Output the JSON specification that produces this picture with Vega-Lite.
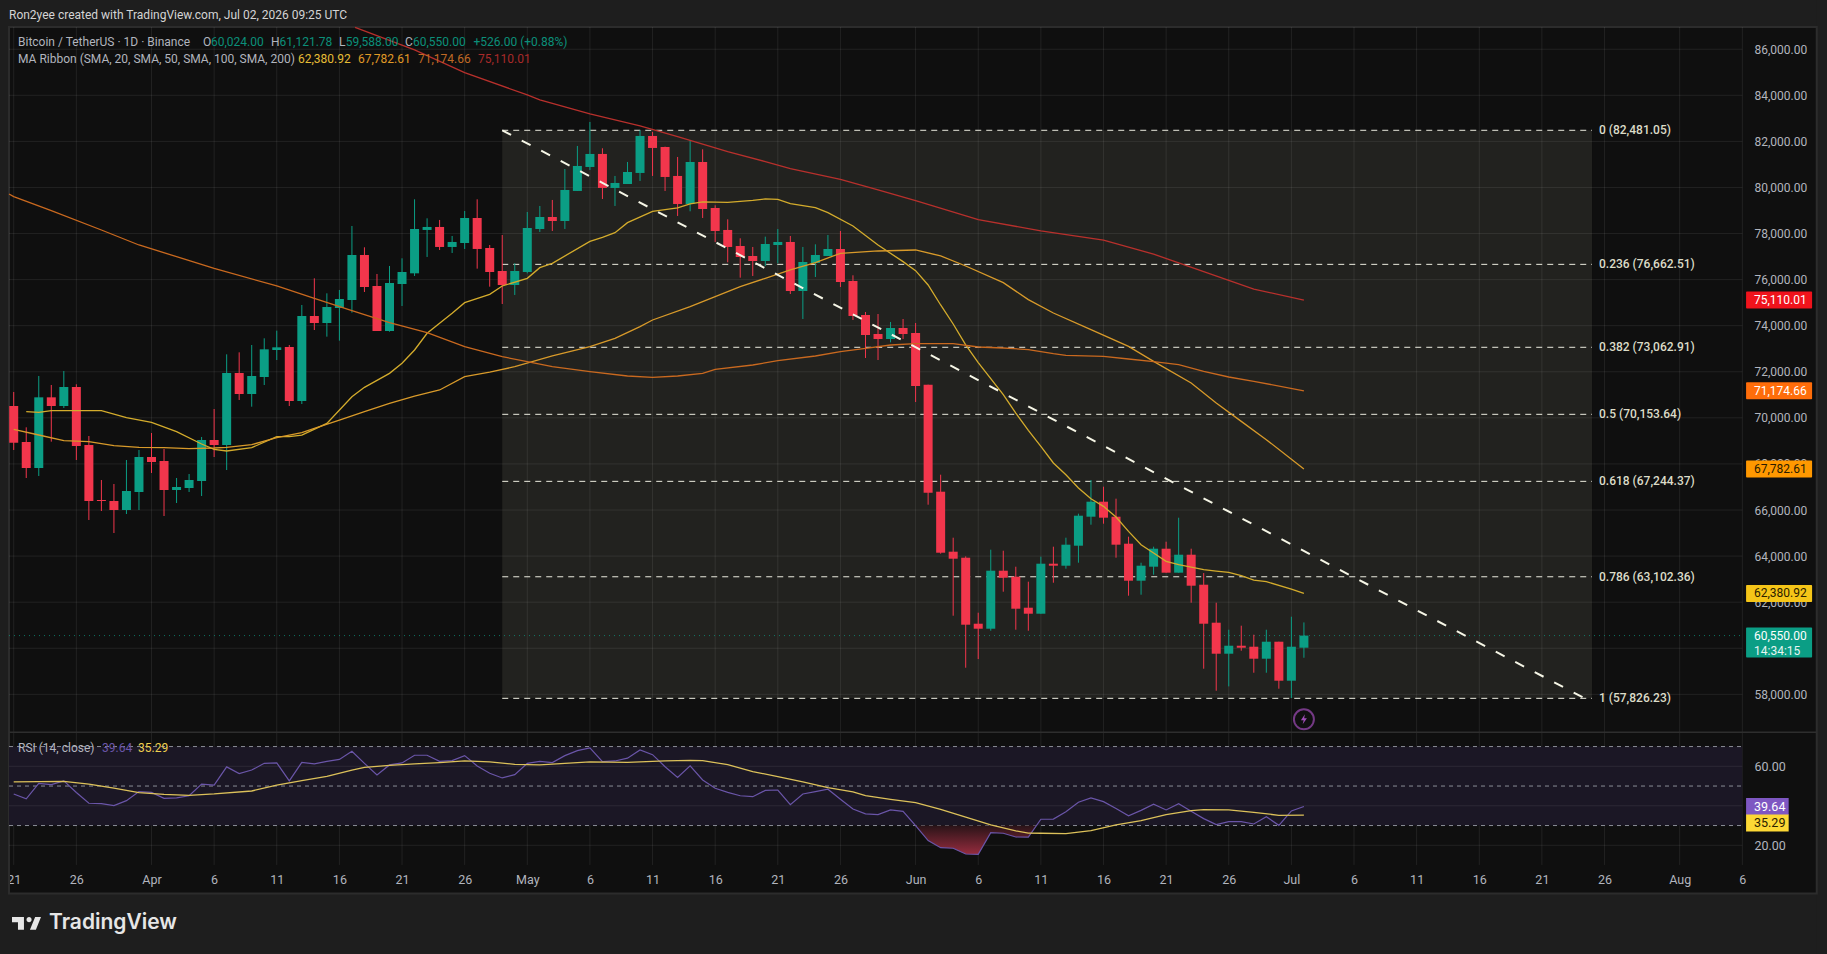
{
"$schema":"https://vega.github.io/schema/vega-lite/v6.json",
"width":1827,"height":954,"autosize":"none","padding":{"left":0,"right":0,"top":0,"bottom":0},"background":"#0f0f0f",
"config":{"view":{"stroke":null},"text":{"font":"Roboto"},"scale":{"continuousPadding":0},"axis":{"grid":false,"domain":false,"ticks":false,"title":null}},
"datasets":{
"candles":[
{"date":"2026-03-21","open":70515,"high":71123,"low":68605,"close":68923},
{"date":"2026-03-22","open":68952,"high":69589,"low":67390,"close":67824},
{"date":"2026-03-23","open":67824,"high":71818,"low":67477,"close":70891},
{"date":"2026-03-24","open":70891,"high":71427,"low":68967,"close":70515},
{"date":"2026-03-25","open":70515,"high":72035,"low":70428,"close":71340},
{"date":"2026-03-26","open":71340,"high":71456,"low":68171,"close":68779},
{"date":"2026-03-27","open":68822,"high":69213,"low":65567,"close":66391},
{"date":"2026-03-28","open":66435,"high":67303,"low":65957,"close":66391},
{"date":"2026-03-29","open":66391,"high":67129,"low":65002,"close":66000},
{"date":"2026-03-30","open":66000,"high":68171,"low":65827,"close":66825},
{"date":"2026-03-31","open":66782,"high":68605,"low":66000,"close":68301},
{"date":"2026-04-01","open":68301,"high":69343,"low":67607,"close":68084},
{"date":"2026-04-02","open":68127,"high":68649,"low":65740,"close":66869},
{"date":"2026-04-03","open":66869,"high":67390,"low":66304,"close":66999},
{"date":"2026-04-04","open":66955,"high":67563,"low":66782,"close":67303},
{"date":"2026-04-05","open":67260,"high":69170,"low":66608,"close":69039},
{"date":"2026-04-06","open":69039,"high":70385,"low":68301,"close":68822},
{"date":"2026-04-07","open":68822,"high":72757,"low":67736,"close":71947},
{"date":"2026-04-08","open":71947,"high":72844,"low":70775,"close":71035},
{"date":"2026-04-09","open":71035,"high":73162,"low":70485,"close":71817},
{"date":"2026-04-10","open":71773,"high":73452,"low":71426,"close":72974},
{"date":"2026-04-11","open":72945,"high":73785,"low":72511,"close":73061},
{"date":"2026-04-12","open":73075,"high":73162,"low":70514,"close":70731},
{"date":"2026-04-13","open":70731,"high":74899,"low":70601,"close":74421},
{"date":"2026-04-14","open":74421,"high":76056,"low":73813,"close":74117},
{"date":"2026-04-15","open":74117,"high":75405,"low":73524,"close":74812},
{"date":"2026-04-16","open":74768,"high":75550,"low":73350,"close":75159},
{"date":"2026-04-17","open":75116,"high":78328,"low":74566,"close":77069},
{"date":"2026-04-18","open":77069,"high":77402,"low":75463,"close":75680},
{"date":"2026-04-19","open":75723,"high":76245,"low":73770,"close":73770},
{"date":"2026-04-20","open":73770,"high":76592,"low":73741,"close":75854},
{"date":"2026-04-21","open":75810,"high":76925,"low":74855,"close":76331},
{"date":"2026-04-22","open":76273,"high":79486,"low":76157,"close":78198},
{"date":"2026-04-23","open":78155,"high":78661,"low":76983,"close":78285},
{"date":"2026-04-24","open":78285,"high":78589,"low":77286,"close":77417},
{"date":"2026-04-25","open":77417,"high":77894,"low":77156,"close":77634},
{"date":"2026-04-26","open":77590,"high":78979,"low":77330,"close":78675},
{"date":"2026-04-27","open":78675,"high":79486,"low":76476,"close":77330},
{"date":"2026-04-28","open":77373,"high":77503,"low":75694,"close":76331},
{"date":"2026-04-29","open":76375,"high":77937,"low":74942,"close":75767},
{"date":"2026-04-30","open":75767,"high":76708,"low":75333,"close":76375},
{"date":"2026-05-01","open":76331,"high":78936,"low":76273,"close":78241},
{"date":"2026-05-02","open":78198,"high":79196,"low":78068,"close":78719},
{"date":"2026-05-03","open":78719,"high":79457,"low":78111,"close":78545},
{"date":"2026-05-04","open":78545,"high":80802,"low":78198,"close":79891},
{"date":"2026-05-05","open":79848,"high":81801,"low":79848,"close":80933},
{"date":"2026-05-06","open":80889,"high":82843,"low":80759,"close":81454},
{"date":"2026-05-07","open":81454,"high":81700,"low":79500,"close":79978},
{"date":"2026-05-08","open":79978,"high":80499,"low":79196,"close":80195},
{"date":"2026-05-09","open":80151,"high":81106,"low":80151,"close":80672},
{"date":"2026-05-10","open":80629,"high":82481,"low":80282,"close":82235},
{"date":"2026-05-11","open":82235,"high":82409,"low":80499,"close":81714},
{"date":"2026-05-12","open":81757,"high":81772,"low":79847,"close":80455},
{"date":"2026-05-13","open":80499,"high":81323,"low":78762,"close":79283},
{"date":"2026-05-14","open":79283,"high":82061,"low":78965,"close":81106},
{"date":"2026-05-15","open":81106,"high":81656,"low":78675,"close":79066},
{"date":"2026-05-16","open":79109,"high":79225,"low":77634,"close":78111},
{"date":"2026-05-17","open":78155,"high":78617,"low":76751,"close":77417},
{"date":"2026-05-18","open":77460,"high":77793,"low":76085,"close":76982},
{"date":"2026-05-19","open":77026,"high":77417,"low":76158,"close":76809},
{"date":"2026-05-20","open":76809,"high":77865,"low":76592,"close":77547},
{"date":"2026-05-21","open":77503,"high":78198,"low":76708,"close":77634},
{"date":"2026-05-22","open":77634,"high":77894,"low":75376,"close":75507},
{"date":"2026-05-23","open":75507,"high":77417,"low":74291,"close":76765},
{"date":"2026-05-24","open":76722,"high":77532,"low":76114,"close":77069},
{"date":"2026-05-25","open":77026,"high":77937,"low":77026,"close":77330},
{"date":"2026-05-26","open":77330,"high":78111,"low":75680,"close":75897},
{"date":"2026-05-27","open":75941,"high":76187,"low":74248,"close":74422},
{"date":"2026-05-28","open":74465,"high":74595,"low":72598,"close":73597},
{"date":"2026-05-29","open":73640,"high":74508,"low":72511,"close":73423},
{"date":"2026-05-30","open":73423,"high":74161,"low":73278,"close":73900},
{"date":"2026-05-31","open":73900,"high":74291,"low":73423,"close":73640},
{"date":"2026-06-01","open":73683,"high":74117,"low":70688,"close":71382},
{"date":"2026-06-02","open":71440,"high":71440,"low":66231,"close":66752},
{"date":"2026-06-03","open":66795,"high":67533,"low":64104,"close":64147},
{"date":"2026-06-04","open":64191,"high":64799,"low":61412,"close":63887},
{"date":"2026-06-05","open":63930,"high":63988,"low":59155,"close":61022},
{"date":"2026-06-06","open":61065,"high":61543,"low":59531,"close":60848},
{"date":"2026-06-07","open":60848,"high":64278,"low":60761,"close":63366},
{"date":"2026-06-08","open":63366,"high":64234,"low":62454,"close":63062},
{"date":"2026-06-09","open":63106,"high":63540,"low":60805,"close":61716},
{"date":"2026-06-10","open":61760,"high":62889,"low":60761,"close":61499},
{"date":"2026-06-11","open":61499,"high":63974,"low":61499,"close":63670},
{"date":"2026-06-12","open":63670,"high":64408,"low":62845,"close":63583},
{"date":"2026-06-13","open":63583,"high":64799,"low":63453,"close":64495},
{"date":"2026-06-14","open":64451,"high":65840,"low":63713,"close":65753},
{"date":"2026-06-15","open":65710,"high":67302,"low":65363,"close":66361},
{"date":"2026-06-16","open":66361,"high":67012,"low":65406,"close":65667},
{"date":"2026-06-17","open":65710,"high":66492,"low":63930,"close":64495},
{"date":"2026-06-18","open":64538,"high":64842,"low":62281,"close":62932},
{"date":"2026-06-19","open":62932,"high":63713,"low":62324,"close":63583},
{"date":"2026-06-20","open":63540,"high":64408,"low":63192,"close":64321},
{"date":"2026-06-21","open":64321,"high":64625,"low":63280,"close":63280},
{"date":"2026-06-22","open":63280,"high":65667,"low":63280,"close":64060},
{"date":"2026-06-23","open":64060,"high":64321,"low":61977,"close":62715},
{"date":"2026-06-24","open":62758,"high":63265,"low":59112,"close":61065},
{"date":"2026-06-25","open":61109,"high":61977,"low":58157,"close":59763},
{"date":"2026-06-26","open":59763,"high":60805,"low":58345,"close":60110},
{"date":"2026-06-27","open":60110,"high":60979,"low":59893,"close":60023},
{"date":"2026-06-28","open":60067,"high":60588,"low":58938,"close":59546},
{"date":"2026-06-29","open":59546,"high":60805,"low":58938,"close":60284},
{"date":"2026-06-30","open":60284,"high":60284,"low":58244,"close":58591},
{"date":"2026-07-01","open":58591,"high":61369,"low":57838,"close":60067},
{"date":"2026-07-02","open":60024,"high":61121.78,"low":59588,"close":60550}
],
"sma":[
{"s":"sma20","date":"2026-03-22","v":70269},{"s":"sma20","date":"2026-03-23","v":70240},{"s":"sma20","date":"2026-03-24","v":70313},{"s":"sma20","date":"2026-03-26","v":70313},{"s":"sma20","date":"2026-03-28","v":70313},{"s":"sma20","date":"2026-03-30","v":70009},{"s":"sma20","date":"2026-04-01","v":69806},{"s":"sma20","date":"2026-04-03","v":69401},{"s":"sma20","date":"2026-04-05","v":68866},{"s":"sma20","date":"2026-04-06","v":68634},{"s":"sma20","date":"2026-04-07","v":68562},{"s":"sma20","date":"2026-04-09","v":68706},{"s":"sma20","date":"2026-04-11","v":69184},{"s":"sma20","date":"2026-04-12","v":69184},{"s":"sma20","date":"2026-04-13","v":69255},{"s":"sma20","date":"2026-04-15","v":69762},{"s":"sma20","date":"2026-04-17","v":70919},{"s":"sma20","date":"2026-04-18","v":71325},{"s":"sma20","date":"2026-04-20","v":71932},{"s":"sma20","date":"2026-04-21","v":72367},{"s":"sma20","date":"2026-04-22","v":72945},{"s":"sma20","date":"2026-04-23","v":73669},{"s":"sma20","date":"2026-04-25","v":74537},{"s":"sma20","date":"2026-04-26","v":74999},{"s":"sma20","date":"2026-04-28","v":75361},{"s":"sma20","date":"2026-04-29","v":75724},{"s":"sma20","date":"2026-05-01","v":76056},{"s":"sma20","date":"2026-05-02","v":76519},{"s":"sma20","date":"2026-05-03","v":76708},{"s":"sma20","date":"2026-05-06","v":77662},{"s":"sma20","date":"2026-05-07","v":77836},{"s":"sma20","date":"2026-05-08","v":78039},{"s":"sma20","date":"2026-05-09","v":78473},{"s":"sma20","date":"2026-05-11","v":78965},{"s":"sma20","date":"2026-05-13","v":79109},{"s":"sma20","date":"2026-05-14","v":79283},{"s":"sma20","date":"2026-05-15","v":79370},{"s":"sma20","date":"2026-05-17","v":79355},{"s":"sma20","date":"2026-05-19","v":79442},{"s":"sma20","date":"2026-05-20","v":79500},{"s":"sma20","date":"2026-05-21","v":79486},{"s":"sma20","date":"2026-05-22","v":79298},{"s":"sma20","date":"2026-05-24","v":79124},{"s":"sma20","date":"2026-05-25","v":78907},{"s":"sma20","date":"2026-05-27","v":78328},{"s":"sma20","date":"2026-05-29","v":77503},{"s":"sma20","date":"2026-05-31","v":76780},{"s":"sma20","date":"2026-06-01","v":76389},{"s":"sma20","date":"2026-06-02","v":75767},{"s":"sma20","date":"2026-06-03","v":74899},{"s":"sma20","date":"2026-06-04","v":74074},{"s":"sma20","date":"2026-06-05","v":73170},{"s":"sma20","date":"2026-06-06","v":72400},{"s":"sma20","date":"2026-06-08","v":71006},{"s":"sma20","date":"2026-06-09","v":70210},{"s":"sma20","date":"2026-06-10","v":69458},{"s":"sma20","date":"2026-06-11","v":68763},{"s":"sma20","date":"2026-06-12","v":68040},{"s":"sma20","date":"2026-06-13","v":67533},{"s":"sma20","date":"2026-06-14","v":66955},{"s":"sma20","date":"2026-06-15","v":66492},{"s":"sma20","date":"2026-06-16","v":66159},{"s":"sma20","date":"2026-06-17","v":65696},{"s":"sma20","date":"2026-06-18","v":65074},{"s":"sma20","date":"2026-06-19","v":64495},{"s":"sma20","date":"2026-06-20","v":64133},{"s":"sma20","date":"2026-06-21","v":63771},{"s":"sma20","date":"2026-06-22","v":63627},{"s":"sma20","date":"2026-06-23","v":63525},{"s":"sma20","date":"2026-06-24","v":63409},{"s":"sma20","date":"2026-06-25","v":63352},{"s":"sma20","date":"2026-06-26","v":63294},{"s":"sma20","date":"2026-06-27","v":63149},{"s":"sma20","date":"2026-06-28","v":62961},{"s":"sma20","date":"2026-06-29","v":62888},{"s":"sma20","date":"2026-07-01","v":62570},{"s":"sma20","date":"2026-07-02","v":62380.92},
{"s":"sma50","date":"2026-03-21","v":69502},{"s":"sma50","date":"2026-03-23","v":69256},{"s":"sma50","date":"2026-03-25","v":69010},{"s":"sma50","date":"2026-03-27","v":68967},{"s":"sma50","date":"2026-03-29","v":68793},{"s":"sma50","date":"2026-03-31","v":68721},{"s":"sma50","date":"2026-04-02","v":68706},{"s":"sma50","date":"2026-04-04","v":68663},{"s":"sma50","date":"2026-04-06","v":68692},{"s":"sma50","date":"2026-04-07","v":68721},{"s":"sma50","date":"2026-04-09","v":68837},{"s":"sma50","date":"2026-04-11","v":69141},{"s":"sma50","date":"2026-04-13","v":69358},{"s":"sma50","date":"2026-04-14","v":69545},{"s":"sma50","date":"2026-04-16","v":69906},{"s":"sma50","date":"2026-04-18","v":70268},{"s":"sma50","date":"2026-04-20","v":70630},{"s":"sma50","date":"2026-04-22","v":70948},{"s":"sma50","date":"2026-04-24","v":71209},{"s":"sma50","date":"2026-04-26","v":71788},{"s":"sma50","date":"2026-04-28","v":71980},{"s":"sma50","date":"2026-04-30","v":72222},{"s":"sma50","date":"2026-05-03","v":72685},{"s":"sma50","date":"2026-05-06","v":73090},{"s":"sma50","date":"2026-05-08","v":73452},{"s":"sma50","date":"2026-05-10","v":73958},{"s":"sma50","date":"2026-05-11","v":74248},{"s":"sma50","date":"2026-05-14","v":74826},{"s":"sma50","date":"2026-05-16","v":75261},{"s":"sma50","date":"2026-05-18","v":75694},{"s":"sma50","date":"2026-05-20","v":76056},{"s":"sma50","date":"2026-05-22","v":76418},{"s":"sma50","date":"2026-05-24","v":76737},{"s":"sma50","date":"2026-05-26","v":77142},{"s":"sma50","date":"2026-05-29","v":77243},{"s":"sma50","date":"2026-06-01","v":77286},{"s":"sma50","date":"2026-06-03","v":77026},{"s":"sma50","date":"2026-06-05","v":76592},{"s":"sma50","date":"2026-06-08","v":75870},{"s":"sma50","date":"2026-06-10","v":75130},{"s":"sma50","date":"2026-06-12","v":74551},{"s":"sma50","date":"2026-06-15","v":73828},{"s":"sma50","date":"2026-06-18","v":73104},{"s":"sma50","date":"2026-06-20","v":72453},{"s":"sma50","date":"2026-06-23","v":71513},{"s":"sma50","date":"2026-06-25","v":70644},{"s":"sma50","date":"2026-06-27","v":69848},{"s":"sma50","date":"2026-06-29","v":69053},{"s":"sma50","date":"2026-07-02","v":67782.61},
{"s":"sma100","date":"2026-03-20T15:00:00Z","v":79717},{"s":"sma100","date":"2026-03-21","v":79601},{"s":"sma100","date":"2026-03-24","v":78994},{"s":"sma100","date":"2026-03-28","v":78154},{"s":"sma100","date":"2026-03-31","v":77503},{"s":"sma100","date":"2026-04-03","v":76997},{"s":"sma100","date":"2026-04-06","v":76490},{"s":"sma100","date":"2026-04-11","v":75724},{"s":"sma100","date":"2026-04-14","v":75188},{"s":"sma100","date":"2026-04-17","v":74653},{"s":"sma100","date":"2026-04-20","v":74132},{"s":"sma100","date":"2026-04-23","v":73697},{"s":"sma100","date":"2026-04-26","v":73090},{"s":"sma100","date":"2026-04-29","v":72656},{"s":"sma100","date":"2026-05-01","v":72439},{"s":"sma100","date":"2026-05-03","v":72222},{"s":"sma100","date":"2026-05-06","v":72005},{"s":"sma100","date":"2026-05-09","v":71817},{"s":"sma100","date":"2026-05-11","v":71759},{"s":"sma100","date":"2026-05-13","v":71817},{"s":"sma100","date":"2026-05-15","v":71932},{"s":"sma100","date":"2026-05-16","v":72106},{"s":"sma100","date":"2026-05-19","v":72294},{"s":"sma100","date":"2026-05-21","v":72482},{"s":"sma100","date":"2026-05-24","v":72685},{"s":"sma100","date":"2026-05-26","v":72873},{"s":"sma100","date":"2026-05-28","v":73017},{"s":"sma100","date":"2026-05-30","v":73162},{"s":"sma100","date":"2026-06-01","v":73220},{"s":"sma100","date":"2026-06-04","v":73220},{"s":"sma100","date":"2026-06-06","v":73076},{"s":"sma100","date":"2026-06-08","v":73032},{"s":"sma100","date":"2026-06-10","v":72960},{"s":"sma100","date":"2026-06-12","v":72786},{"s":"sma100","date":"2026-06-13","v":72714},{"s":"sma100","date":"2026-06-16","v":72670},{"s":"sma100","date":"2026-06-18","v":72554},{"s":"sma100","date":"2026-06-20","v":72439},{"s":"sma100","date":"2026-06-22","v":72308},{"s":"sma100","date":"2026-06-24","v":72019},{"s":"sma100","date":"2026-06-26","v":71773},{"s":"sma100","date":"2026-06-28","v":71585},{"s":"sma100","date":"2026-07-02","v":71174.66},
{"s":"sma200","date":"2026-04-17T06:00:00Z","v":86952},{"s":"sma200","date":"2026-04-22","v":85968},{"s":"sma200","date":"2026-04-26","v":84984},{"s":"sma200","date":"2026-05-01","v":84015},{"s":"sma200","date":"2026-05-02","v":83798},{"s":"sma200","date":"2026-05-06","v":83190},{"s":"sma200","date":"2026-05-10","v":82669},{"s":"sma200","date":"2026-05-13","v":82206},{"s":"sma200","date":"2026-05-17","v":81555},{"s":"sma200","date":"2026-05-20","v":81121},{"s":"sma200","date":"2026-05-22","v":80817},{"s":"sma200","date":"2026-05-26","v":80354},{"s":"sma200","date":"2026-05-29","v":79891},{"s":"sma200","date":"2026-06-01","v":79428},{"s":"sma200","date":"2026-06-06","v":78600},{"s":"sma200","date":"2026-06-11","v":78119},{"s":"sma200","date":"2026-06-16","v":77714},{"s":"sma200","date":"2026-06-20","v":77107},{"s":"sma200","date":"2026-06-24","v":76348},{"s":"sma200","date":"2026-06-28","v":75589},{"s":"sma200","date":"2026-07-02","v":75110.01}
],
"rsi":[
{"date":"2026-03-21","v":46},{"date":"2026-03-22","v":43.5},{"date":"2026-03-23","v":51.4},{"date":"2026-03-24","v":50.7},{"date":"2026-03-25","v":52.6},{"date":"2026-03-26","v":46.7},{"date":"2026-03-27","v":41.3},{"date":"2026-03-28","v":41.1},{"date":"2026-03-29","v":40.1},{"date":"2026-03-30","v":42.6},{"date":"2026-03-31","v":47.2},
{"date":"2026-04-01","v":46.8},{"date":"2026-04-02","v":43.8},{"date":"2026-04-03","v":44},{"date":"2026-04-04","v":45.1},{"date":"2026-04-05","v":51},{"date":"2026-04-06","v":50.5},{"date":"2026-04-07","v":59.7},{"date":"2026-04-08","v":56.3},{"date":"2026-04-09","v":58.1},{"date":"2026-04-10","v":61.5},{"date":"2026-04-11","v":61.7},{"date":"2026-04-12","v":52.6},{"date":"2026-04-13","v":62},{"date":"2026-04-14","v":61.2},{"date":"2026-04-15","v":62.5},{"date":"2026-04-16","v":63.5},{"date":"2026-04-17","v":67.6},{"date":"2026-04-18","v":61.5},{"date":"2026-04-19","v":55.6},{"date":"2026-04-20","v":60.7},{"date":"2026-04-21","v":61.7},{"date":"2026-04-22","v":65.6},{"date":"2026-04-23","v":65.6},{"date":"2026-04-24","v":62.5},{"date":"2026-04-25","v":62.9},{"date":"2026-04-26","v":65.4},{"date":"2026-04-27","v":60.2},{"date":"2026-04-28","v":56.5},{"date":"2026-04-29","v":54.1},{"date":"2026-04-30","v":55.8},
{"date":"2026-05-01","v":61.5},{"date":"2026-05-02","v":62.5},{"date":"2026-05-03","v":61.9},{"date":"2026-05-04","v":65.4},{"date":"2026-05-05","v":67.9},{"date":"2026-05-06","v":69.3},{"date":"2026-05-07","v":62.4},{"date":"2026-05-08","v":62.7},{"date":"2026-05-09","v":64.1},{"date":"2026-05-10","v":68.3},{"date":"2026-05-11","v":65.9},{"date":"2026-05-12","v":59.8},{"date":"2026-05-13","v":54.4},{"date":"2026-05-14","v":60.2},{"date":"2026-05-15","v":53.1},{"date":"2026-05-16","v":48.9},{"date":"2026-05-17","v":46.8},{"date":"2026-05-18","v":45.1},{"date":"2026-05-19","v":44.6},{"date":"2026-05-20","v":47.8},{"date":"2026-05-21","v":48},{"date":"2026-05-22","v":40.6},{"date":"2026-05-23","v":46},{"date":"2026-05-24","v":47.2},{"date":"2026-05-25","v":48.4},{"date":"2026-05-26","v":43.3},{"date":"2026-05-27","v":38.4},{"date":"2026-05-28","v":35.9},{"date":"2026-05-29","v":35.5},{"date":"2026-05-30","v":37.9},{"date":"2026-05-31","v":37.2},
{"date":"2026-06-01","v":30},{"date":"2026-06-02","v":22.4},{"date":"2026-06-03","v":18.8},{"date":"2026-06-04","v":18.5},{"date":"2026-06-05","v":15.6},{"date":"2026-06-06","v":15.4},{"date":"2026-06-07","v":26.4},{"date":"2026-06-08","v":26.1},{"date":"2026-06-09","v":24.2},{"date":"2026-06-10","v":24.1},{"date":"2026-06-11","v":33.2},{"date":"2026-06-12","v":33.3},{"date":"2026-06-13","v":37},{"date":"2026-06-14","v":41.8},{"date":"2026-06-15","v":44},{"date":"2026-06-16","v":42.1},{"date":"2026-06-17","v":38.6},{"date":"2026-06-18","v":34.9},{"date":"2026-06-19","v":37.7},{"date":"2026-06-20","v":40.8},{"date":"2026-06-21","v":37.9},{"date":"2026-06-22","v":41.1},{"date":"2026-06-23","v":37.2},{"date":"2026-06-24","v":33.5},{"date":"2026-06-25","v":30.5},{"date":"2026-06-26","v":32},{"date":"2026-06-27","v":32},{"date":"2026-06-28","v":30.8},{"date":"2026-06-29","v":34.5},{"date":"2026-06-30","v":30.1},{"date":"2026-07-01","v":37.4},{"date":"2026-07-02","v":39.64}
],
"oversold":[
{"date":"2026-06-01","v":30},{"date":"2026-06-02","v":22.4},{"date":"2026-06-03","v":18.8},{"date":"2026-06-04","v":18.5},{"date":"2026-06-05","v":15.6},{"date":"2026-06-06","v":15.4},{"date":"2026-06-07","v":26.4},{"date":"2026-06-08","v":26.1},{"date":"2026-06-09","v":24.2},{"date":"2026-06-10","v":24.1},{"date":"2026-06-10T15:36:00Z","v":30}
],
"rsima":[
{"date":"2026-03-21","v":52.1},{"date":"2026-03-25","v":52.4},{"date":"2026-03-27","v":51},{"date":"2026-03-29","v":48.9},{"date":"2026-03-31","v":46.7},{"date":"2026-04-02","v":45.8},{"date":"2026-04-04","v":45.3},{"date":"2026-04-06","v":46},{"date":"2026-04-09","v":47.5},{"date":"2026-04-11","v":50.5},{"date":"2026-04-13","v":52.7},{"date":"2026-04-15","v":54.9},{"date":"2026-04-17","v":58.1},{"date":"2026-04-18","v":59.5},{"date":"2026-04-20","v":60.5},{"date":"2026-04-22","v":61.2},{"date":"2026-04-24","v":61.9},{"date":"2026-04-26","v":62.7},{"date":"2026-04-28","v":62.2},{"date":"2026-04-30","v":61},{"date":"2026-05-02","v":60.7},{"date":"2026-05-04","v":61.5},{"date":"2026-05-06","v":62.2},{"date":"2026-05-09","v":62},{"date":"2026-05-12","v":62.7},{"date":"2026-05-14","v":63},{"date":"2026-05-15","v":62.9},{"date":"2026-05-17","v":60.8},{"date":"2026-05-19","v":57.3},{"date":"2026-05-21","v":54.8},{"date":"2026-05-23","v":52.1},{"date":"2026-05-25","v":49.2},{"date":"2026-05-27","v":47},{"date":"2026-05-28","v":45.1},{"date":"2026-05-30","v":43.3},{"date":"2026-06-01","v":41.6},{"date":"2026-06-03","v":38.2},{"date":"2026-06-05","v":34.3},{"date":"2026-06-07","v":30.3},{"date":"2026-06-09","v":27.3},{"date":"2026-06-10","v":26.2},{"date":"2026-06-11","v":26.1},{"date":"2026-06-13","v":25.9},{"date":"2026-06-15","v":27.4},{"date":"2026-06-17","v":30.3},{"date":"2026-06-19","v":32.5},{"date":"2026-06-21","v":35.5},{"date":"2026-06-23","v":37.6},{"date":"2026-06-24","v":38.1},{"date":"2026-06-26","v":37.9},{"date":"2026-06-28","v":36.7},{"date":"2026-06-30","v":35.2},{"date":"2026-07-02","v":35.29}
],
"xticks":[{"date":"2026-03-21"},{"date":"2026-03-26"},{"date":"2026-04-01"},{"date":"2026-04-06"},{"date":"2026-04-11"},{"date":"2026-04-16"},{"date":"2026-04-21"},{"date":"2026-04-26"},{"date":"2026-05-01"},{"date":"2026-05-06"},{"date":"2026-05-11"},{"date":"2026-05-16"},{"date":"2026-05-21"},{"date":"2026-05-26"},{"date":"2026-06-01"},{"date":"2026-06-06"},{"date":"2026-06-11"},{"date":"2026-06-16"},{"date":"2026-06-21"},{"date":"2026-06-26"},{"date":"2026-07-01"},{"date":"2026-07-06"},{"date":"2026-07-11"},{"date":"2026-07-16"},{"date":"2026-07-21"},{"date":"2026-07-26"},{"date":"2026-08-01"},{"date":"2026-08-06"}],
"pticks":[{"p":58000},{"p":60000},{"p":62000},{"p":64000},{"p":66000},{"p":68000},{"p":70000},{"p":72000},{"p":74000},{"p":76000},{"p":78000},{"p":80000},{"p":82000},{"p":84000},{"p":86000}],
"fib":[{"p":82481.05,"label":"0 (82,481.05)"},{"p":76662.51,"label":"0.236 (76,662.51)"},{"p":73062.91,"label":"0.382 (73,062.91)"},{"p":70153.64,"label":"0.5 (70,153.64)"},{"p":67244.37,"label":"0.618 (67,244.37)"},{"p":63102.36,"label":"0.786 (63,102.36)"},{"p":57826.23,"label":"1 (57,826.23)"}],
"zones":[
{"zone":"fib","from":1777420800000,"to":1784937600000,"low":57826.23,"high":82481.05},
{"zone":"chrome","from":1773956592000,"to":1786558464000,"low":86964,"high":88136},
{"zone":"chrome","from":1773956592000,"to":1786558464000,"low":46730,"high":49358},
{"zone":"chrome","from":1773956592000,"to":1774018684000,"low":46730,"high":88136},
{"zone":"chrome","from":1786487616000,"to":1786558464000,"low":46730,"high":88136}
],
"frame":[{"from":1774018684000,"to":1786487616000,"low":49358,"high":86964}],
"notes":[
{"text":"Ron2yee created with TradingView.com, Jul 02, 2026 09:25 UTC","t":1774018684000,"p":87485,"tone":"head"},
{"text":"Bitcoin / TetherUS · 1D · Binance","t":1774080763000,"p":86326,"tone":"muted"},
{"text":"O","t":1775356829000,"p":86326,"tone":"muted"},
{"text":"60,024.00","t":1775412010000,"p":86326,"tone":"teal"},
{"text":"H","t":1775825870000,"p":86326,"tone":"muted"},
{"text":"61,121.78","t":1775885189000,"p":86326,"tone":"teal"},
{"text":"L","t":1776294910000,"p":86326,"tone":"muted"},
{"text":"59,588.00","t":1776341124000,"p":86326,"tone":"teal"},
{"text":"C","t":1776750155000,"p":86326,"tone":"muted"},
{"text":"60,550.00","t":1776805336000,"p":86326,"tone":"teal"},
{"text":"+526.00 (+0.88%)","t":1777222644000,"p":86326,"tone":"teal"},
{"text":"MA Ribbon (SMA, 20, SMA, 50, SMA, 100, SMA, 200)","t":1774080763000,"p":85575,"tone":"muted"},
{"text":"62,380.92","t":1776012106000,"p":85575,"tone":"sma20"},
{"text":"67,782.61","t":1776425965000,"p":85575,"tone":"sma50"},
{"text":"71,174.66","t":1776839825000,"p":85575,"tone":"sma100"},
{"text":"75,110.01","t":1777253684000,"p":85575,"tone":"sma200"}
],
"tags":[
{"p":75110.01,"label":"75,110.01","kind":"sma200"},
{"p":71174.66,"label":"71,174.66","kind":"sma100"},
{"p":67782.61,"label":"67,782.61","kind":"sma50"},
{"p":62380.92,"label":"62,380.92","kind":"sma20"}
],
"rsinotes":[
{"text":"RSI (14, close)","t":1774080763000,"v":69.4,"tone":"muted"},
{"text":"39.64","t":1774660166000,"v":69.4,"tone":"rsi"},
{"text":"35.29","t":1774908482000,"v":69.4,"tone":"rsima"}
]
},
"resolve":{"scale":{"y":"independent"}},
"layer":[
{"resolve":{"scale":{"color":"independent"}},"layer":[
{"data":{"name":"xticks"},"mark":{"type":"rule","stroke":"#ffffff","strokeOpacity":0,"strokeWidth":1},
 "encoding":{"x":{"field":"date","type":"temporal","title":null,"scale":{"type":"utc","domain":[1773956592000,1786558464000]},
  "axis":{"orient":"bottom","offset":-92,"title":null,"domain":false,"ticks":false,"grid":false,"labelPadding":11,"labelOverlap":false,"labelFlush":false,"labelFont":"Roboto","labelFontSize":12.5,"labelColor":"#b2b5be",
   "values":[1774051200000,1774483200000,1775001600000,1775433600000,1775865600000,1776297600000,1776729600000,1777161600000,1777593600000,1778025600000,1778457600000,1778889600000,1779321600000,1779753600000,1780272000000,1780704000000,1781136000000,1781568000000,1782000000000,1782432000000,1782864000000,1783296000000,1783728000000,1784160000000,1784592000000,1785024000000,1785542400000,1785974400000],
   "labelExpr":"utcFormat(datum.value,'%-d')=='1' ? utcFormat(datum.value,'%b') : utcFormat(datum.value,'%-d')"}},
  "y":{"datum":86964,"title":null,"scale":{"domain":[46730,88136],"nice":false,"zero":false},
   "axis":{"orient":"right","offset":-85,"title":null,"domain":false,"ticks":false,"grid":false,"labelPadding":12,"labelOverlap":false,"labelFont":"Roboto","labelFontSize":12,"labelColor":"#b2b5be","format":",.2f","values":[58000,62000,64000,66000,68000,70000,72000,74000,76000,78000,80000,82000,84000,86000]}}}},
{"data":{"name":"zones"},"mark":{"type":"rect"},
 "encoding":{"x":{"field":"from","type":"temporal","scale":{"type":"utc","domain":[1773956592000,1786558464000]}},"x2":{"field":"to"},
  "y":{"field":"low","type":"quantitative","scale":{"domain":[46730,88136],"nice":false,"zero":false}},"y2":{"field":"high"},
  "color":{"field":"zone","type":"nominal","legend":null,"scale":{"domain":["fib","chrome"],"range":["#22221f","#1e1e1e"]}}}},
{"data":{"name":"frame"},"mark":{"type":"rect","filled":false,"stroke":"#2c2c2c","strokeWidth":2},
 "encoding":{"x":{"field":"from","type":"temporal","scale":{"type":"utc","domain":[1773956592000,1786558464000]}},"x2":{"field":"to"},
  "y":{"field":"low","type":"quantitative","scale":{"domain":[46730,88136],"nice":false,"zero":false}},"y2":{"field":"high"}}},
{"data":{"name":"xticks"},"mark":{"type":"rule","stroke":"#ffffff","strokeOpacity":0.08,"strokeWidth":1},
 "encoding":{"x":{"field":"date","type":"temporal","scale":{"type":"utc","domain":[1773956592000,1786558464000]}},
  "y":{"datum":86964,"scale":{"domain":[46730,88136],"nice":false,"zero":false}},"y2":{"datum":50595}}},
{"data":{"name":"pticks"},"mark":{"type":"rule","stroke":"#ffffff","strokeOpacity":0.08,"strokeWidth":1},
 "encoding":{"x":{"datum":1774018684000,"type":"temporal","scale":{"type":"utc","domain":[1773956592000,1786558464000]}},"x2":{"datum":1785974400000},
  "y":{"field":"p","type":"quantitative","scale":{"domain":[46730,88136],"nice":false,"zero":false}}}},
{"data":{"values":[{"p":60550}]},"mark":{"type":"rule","stroke":"#0b9e85","strokeOpacity":0.7,"strokeWidth":1,"strokeDash":[1,4]},
 "encoding":{"x":{"datum":1774018684000,"type":"temporal","scale":{"type":"utc","domain":[1773956592000,1786558464000]}},"x2":{"datum":1785974400000},
  "y":{"field":"p","type":"quantitative","scale":{"domain":[46730,88136],"nice":false,"zero":false}}}},
{"data":{"values":[{"p":56354}]},"mark":{"type":"rule","stroke":"#2e2e2e","strokeWidth":1.5},
 "encoding":{"x":{"datum":1774018684000,"type":"temporal","scale":{"type":"utc","domain":[1773956592000,1786558464000]}},"x2":{"datum":1786487616000},
  "y":{"field":"p","type":"quantitative","scale":{"domain":[46730,88136],"nice":false,"zero":false}}}},
{"data":{"name":"fib"},"mark":{"type":"rule","stroke":"#ecece0","strokeWidth":1,"strokeDash":[6,5]},
 "encoding":{"x":{"datum":1777420800000,"type":"temporal","scale":{"type":"utc","domain":[1773956592000,1786558464000]}},"x2":{"datum":1784937600000},
  "y":{"field":"p","type":"quantitative","scale":{"domain":[46730,88136],"nice":false,"zero":false}}}},
{"data":{"name":"candles"},"mark":{"type":"rule","strokeWidth":1},
 "encoding":{"x":{"field":"date","type":"temporal","scale":{"type":"utc","domain":[1773956592000,1786558464000]}},
  "y":{"field":"low","type":"quantitative","scale":{"domain":[46730,88136],"nice":false,"zero":false}},"y2":{"field":"high"},
  "color":{"condition":{"test":"datum.close>=datum.open","value":"#0b9e85"},"value":"#f2364c"}}},
{"data":{"name":"candles"},"mark":{"type":"bar","size":9},
 "encoding":{"x":{"field":"date","type":"temporal","scale":{"type":"utc","domain":[1773956592000,1786558464000]}},
  "y":{"field":"open","type":"quantitative","scale":{"domain":[46730,88136],"nice":false,"zero":false}},"y2":{"field":"close"},
  "color":{"condition":{"test":"datum.close>=datum.open","value":"#0b9e85"},"value":"#f2364c"}}},
{"data":{"name":"sma"},"mark":{"type":"line","strokeWidth":1.3},
 "encoding":{"x":{"field":"date","type":"temporal","scale":{"type":"utc","domain":[1773956592000,1786558464000]}},
  "y":{"field":"v","type":"quantitative","scale":{"domain":[46730,88136],"nice":false,"zero":false}},
  "color":{"field":"s","type":"nominal","legend":null,"scale":{"domain":["sma20","sma50","sma100","sma200"],"range":["#d4ac2c","#d89a2a","#c9691f","#b8302c"]}}}},
{"data":{"values":[{"date":"2026-04-29","p":82481.05},{"date":"2026-07-24T10:00:00Z","p":57826.23}]},"mark":{"type":"line","stroke":"#f6f6e6","strokeWidth":2,"strokeDash":[10,12]},
 "encoding":{"x":{"field":"date","type":"temporal","scale":{"type":"utc","domain":[1773956592000,1786558464000]}},
  "y":{"field":"p","type":"quantitative","scale":{"domain":[46730,88136],"nice":false,"zero":false}}}},
{"data":{"name":"fib"},"mark":{"type":"text","align":"left","baseline":"middle","fontSize":12,"fontWeight":500,"font":"Roboto","color":"#dcdcc8"},
 "encoding":{"x":{"datum":1784985953000,"type":"temporal","scale":{"type":"utc","domain":[1773956592000,1786558464000]}},
  "y":{"field":"p","type":"quantitative","scale":{"domain":[46730,88136],"nice":false,"zero":false}},"text":{"field":"label"}}},
{"data":{"name":"tags"},"mark":{"type":"bar","orient":"horizontal","size":17,"cornerRadius":1},
 "encoding":{"x":{"datum":1786000320000,"type":"temporal","scale":{"type":"utc","domain":[1773956592000,1786558464000]}},"x2":{"datum":1786455648000},
  "y":{"field":"p","type":"quantitative","scale":{"domain":[46730,88136],"nice":false,"zero":false}},
  "color":{"field":"kind","type":"nominal","legend":null,"scale":{"domain":["sma200","sma100","sma50","sma20"],"range":["#f0131c","#ff6d0a","#ff9800","#f5c518"]}}}},
{"data":{"name":"tags"},"mark":{"type":"text","align":"left","baseline":"middle","fontSize":12,"font":"Roboto"},
 "encoding":{"x":{"datum":1786055089000,"type":"temporal","scale":{"type":"utc","domain":[1773956592000,1786558464000]}},
  "y":{"field":"p","type":"quantitative","scale":{"domain":[46730,88136],"nice":false,"zero":false}},"text":{"field":"label"},
  "color":{"field":"kind","type":"nominal","legend":null,"scale":{"domain":["sma200","sma100","sma50","sma20"],"range":["#ffffff","#ffffff","#2a1c00","#2a2000"]}}}},
{"data":{"values":[{"p":60550}]},"mark":{"type":"bar","orient":"horizontal","size":30,"yOffset":7,"cornerRadius":1,"color":"#0b9e85"},
 "encoding":{"x":{"datum":1786000320000,"type":"temporal","scale":{"type":"utc","domain":[1773956592000,1786558464000]}},"x2":{"datum":1786455648000},
  "y":{"field":"p","type":"quantitative","scale":{"domain":[46730,88136],"nice":false,"zero":false}}}},
{"data":{"values":[{"p":60550,"label":"60,550.00"}]},"mark":{"type":"text","align":"left","baseline":"middle","fontSize":12,"font":"Roboto","color":"#ffffff"},
 "encoding":{"x":{"datum":1786055089000,"type":"temporal","scale":{"type":"utc","domain":[1773956592000,1786558464000]}},
  "y":{"field":"p","type":"quantitative","scale":{"domain":[46730,88136],"nice":false,"zero":false}},"text":{"field":"label"}}},
{"data":{"values":[{"p":60550,"label":"14:34:15"}]},"mark":{"type":"text","align":"left","baseline":"middle","fontSize":12,"font":"Roboto","color":"#e8f5f1","dy":15},
 "encoding":{"x":{"datum":1786055089000,"type":"temporal","scale":{"type":"utc","domain":[1773956592000,1786558464000]}},
  "y":{"field":"p","type":"quantitative","scale":{"domain":[46730,88136],"nice":false,"zero":false}},"text":{"field":"label"}}},
{"data":{"name":"notes"},"mark":{"type":"text","align":"left","baseline":"middle","fontSize":12,"font":"Roboto"},
 "encoding":{"x":{"field":"t","type":"temporal","scale":{"type":"utc","domain":[1773956592000,1786558464000]}},
  "y":{"field":"p","type":"quantitative","scale":{"domain":[46730,88136],"nice":false,"zero":false}},"text":{"field":"text"},
  "color":{"field":"tone","type":"nominal","legend":null,"scale":{"domain":["head","muted","teal","sma20","sma50","sma100","sma200"],"range":["#d4d4d4","#b2b5be","#0b8f7a","#e6bd35","#e09a26","#c06a25","#a82a2a"]}}}},
{"data":{"values":[{"date":"2026-07-02","p":56918}]},"mark":{"type":"point","shape":"circle","size":400,"filled":false,"stroke":"#a04cb8","strokeWidth":2},
 "encoding":{"x":{"field":"date","type":"temporal","scale":{"type":"utc","domain":[1773956592000,1786558464000]}},
  "y":{"field":"p","type":"quantitative","scale":{"domain":[46730,88136],"nice":false,"zero":false}}}},
{"data":{"values":[{"date":"2026-07-02","p":56918}]},"mark":{"type":"point","shape":"M0.2 -1L-0.6 0.2H-0.05L-0.25 1L0.6 -0.2H0.05Z","size":100,"filled":true,"fill":"#a04cb8","opacity":1,"strokeWidth":0},
 "encoding":{"x":{"field":"date","type":"temporal","scale":{"type":"utc","domain":[1773956592000,1786558464000]}},
  "y":{"field":"p","type":"quantitative","scale":{"domain":[46730,88136],"nice":false,"zero":false}}}},
{"data":{"values":[{"t":1774294591000,"p":48077,"text":"TradingView"}]},"mark":{"type":"text","align":"left","baseline":"middle","fontSize":21,"fontWeight":600,"font":"Inter","color":"#e6e6e6"},
 "encoding":{"x":{"field":"t","type":"temporal","scale":{"type":"utc","domain":[1773956592000,1786558464000]}},
  "y":{"field":"p","type":"quantitative","scale":{"domain":[46730,88136],"nice":false,"zero":false}},"text":{"field":"text"}}},
{"data":{"values":[{"t":1774139393000,"p":48055}]},"mark":{"type":"point","shape":"M-0.176 -0.441H-1V-0.088H-0.588V0.441H-0.176ZM0.647 0.441H0.237L0.595 -0.441H1ZM0.176 -0.441A0.176 0.176 0 1 1 0.176 -0.089A0.176 0.176 0 1 1 0.176 -0.441Z","size":841,"filled":true,"fill":"#e6e6e6","opacity":1,"strokeWidth":0},
 "encoding":{"x":{"field":"t","type":"temporal","scale":{"type":"utc","domain":[1773956592000,1786558464000]}},
  "y":{"field":"p","type":"quantitative","scale":{"domain":[46730,88136],"nice":false,"zero":false}}}}
]},
{"resolve":{"scale":{"color":"independent"}},"layer":[
{"data":{"values":[{"high":70,"low":30}]},"mark":{"type":"rect","color":"#1b1725"},
 "encoding":{"x":{"datum":1774018684000,"type":"temporal","scale":{"type":"utc","domain":[1773956592000,1786558464000]}},"x2":{"datum":1785974400000},
  "y":{"field":"low","type":"quantitative","title":null,"scale":{"domain":[-35.04,448],"nice":false,"zero":false},
   "axis":{"orient":"right","offset":-85,"title":null,"domain":false,"ticks":false,"grid":false,"labelPadding":12,"labelOverlap":false,"labelFont":"Roboto","labelFontSize":12.5,"labelColor":"#b2b5be","format":".2f","values":[20,60]}},"y2":{"field":"high"}}},
{"data":{"values":[{"v":20},{"v":40},{"v":60}]},"mark":{"type":"rule","stroke":"#ffffff","strokeOpacity":0.08,"strokeWidth":1},
 "encoding":{"x":{"datum":1774018684000,"type":"temporal","scale":{"type":"utc","domain":[1773956592000,1786558464000]}},"x2":{"datum":1785974400000},
  "y":{"field":"v","type":"quantitative","scale":{"domain":[-35.04,448],"nice":false,"zero":false}}}},
{"data":{"values":[{"v":30},{"v":50},{"v":70}]},"mark":{"type":"rule","stroke":"#8a8d96","strokeWidth":1,"strokeDash":[4,4]},
 "encoding":{"x":{"datum":1774018684000,"type":"temporal","scale":{"type":"utc","domain":[1773956592000,1786558464000]}},"x2":{"datum":1785974400000},
  "y":{"field":"v","type":"quantitative","scale":{"domain":[-35.04,448],"nice":false,"zero":false}}}},
{"data":{"name":"oversold"},"mark":{"type":"area","interpolate":"linear","color":{"gradient":"linear","x1":0,"x2":0,"y1":0,"y2":1,"stops":[{"offset":0,"color":"#2a1418"},{"offset":1,"color":"#962c3e"}]}},
 "encoding":{"x":{"field":"date","type":"temporal","scale":{"type":"utc","domain":[1773956592000,1786558464000]}},
  "y":{"field":"v","type":"quantitative","scale":{"domain":[-35.04,448],"nice":false,"zero":false}},"y2":{"datum":30}}},
{"data":{"name":"rsi"},"mark":{"type":"line","stroke":"#6a55a8","strokeWidth":1.2},
 "encoding":{"x":{"field":"date","type":"temporal","scale":{"type":"utc","domain":[1773956592000,1786558464000]}},
  "y":{"field":"v","type":"quantitative","scale":{"domain":[-35.04,448],"nice":false,"zero":false}}}},
{"data":{"name":"rsima"},"mark":{"type":"line","stroke":"#dcc15a","strokeWidth":1.3},
 "encoding":{"x":{"field":"date","type":"temporal","scale":{"type":"utc","domain":[1773956592000,1786558464000]}},
  "y":{"field":"v","type":"quantitative","scale":{"domain":[-35.04,448],"nice":false,"zero":false}}}},
{"data":{"name":"rsinotes"},"mark":{"type":"text","align":"left","baseline":"middle","fontSize":12,"font":"Roboto"},
 "encoding":{"x":{"field":"t","type":"temporal","scale":{"type":"utc","domain":[1773956592000,1786558464000]}},
  "y":{"field":"v","type":"quantitative","scale":{"domain":[-35.04,448],"nice":false,"zero":false}},"text":{"field":"text"},
  "color":{"field":"tone","type":"nominal","legend":null,"scale":{"domain":["muted","rsi","rsima"],"range":["#b2b5be","#6a55a8","#f0d050"]}}}},
{"data":{"values":[{"v":39.64}]},"mark":{"type":"bar","orient":"horizontal","size":17,"color":"#7e57c2"},
 "encoding":{"x":{"datum":1786000320000,"type":"temporal","scale":{"type":"utc","domain":[1773956592000,1786558464000]}},"x2":{"datum":1786294080000},
  "y":{"field":"v","type":"quantitative","scale":{"domain":[-35.04,448],"nice":false,"zero":false}}}},
{"data":{"values":[{"v":35.29}]},"mark":{"type":"bar","orient":"horizontal","size":17,"yOffset":8,"color":"#fdd835"},
 "encoding":{"x":{"datum":1786000320000,"type":"temporal","scale":{"type":"utc","domain":[1773956592000,1786558464000]}},"x2":{"datum":1786294080000},
  "y":{"field":"v","type":"quantitative","scale":{"domain":[-35.04,448],"nice":false,"zero":false}}}},
{"data":{"values":[{"v":39.64,"label":"39.64"}]},"mark":{"type":"text","align":"left","baseline":"middle","fontSize":12.5,"font":"Roboto","color":"#ffffff"},
 "encoding":{"x":{"datum":1786055089000,"type":"temporal","scale":{"type":"utc","domain":[1773956592000,1786558464000]}},
  "y":{"field":"v","type":"quantitative","scale":{"domain":[-35.04,448],"nice":false,"zero":false}},"text":{"field":"label"}}},
{"data":{"values":[{"v":35.29,"label":"35.29"}]},"mark":{"type":"text","align":"left","baseline":"middle","fontSize":12.5,"font":"Roboto","color":"#2a2000","dy":8},
 "encoding":{"x":{"datum":1786055089000,"type":"temporal","scale":{"type":"utc","domain":[1773956592000,1786558464000]}},
  "y":{"field":"v","type":"quantitative","scale":{"domain":[-35.04,448],"nice":false,"zero":false}},"text":{"field":"label"}}}
]}
]
}
